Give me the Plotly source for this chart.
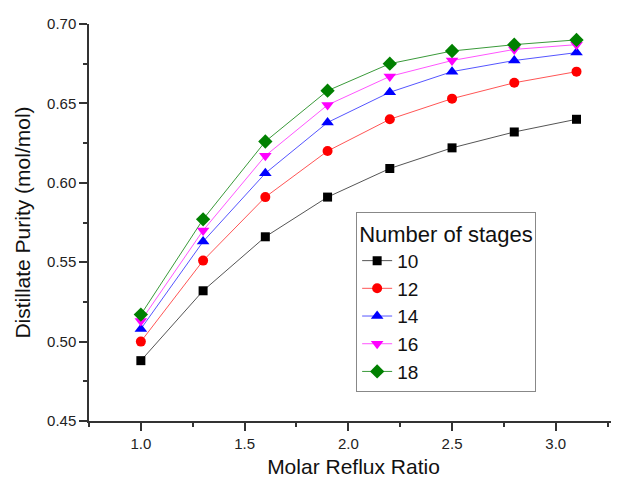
import plotly.graph_objects as go

reflux_ratio = [1.0, 1.3, 1.6, 1.9, 2.2, 2.5, 2.8, 3.1]
stages = ["10", "12", "14", "16", "18"]
purity_10 = [0.488, 0.532, 0.566, 0.591, 0.609, 0.622, 0.632, 0.640]
purity_12 = [0.500, 0.551, 0.591, 0.620, 0.640, 0.653, 0.663, 0.670]
purity_14 = [0.508, 0.563, 0.606, 0.638, 0.657, 0.670, 0.677, 0.682]
purity_16 = [0.513, 0.570, 0.617, 0.649, 0.667, 0.677, 0.684, 0.687]
purity_18 = [0.517, 0.577, 0.626, 0.658, 0.675, 0.683, 0.687, 0.690]

series = [purity_10, purity_12, purity_14, purity_16, purity_18]
marker_colors = ["#000000", "#ff0000", "#0000ff", "#ff00ff", "#008000"]
line_colors = ["#555555", "#ff5555", "#5555ff", "#ff55ff", "#3a9a3a"]
symbols = ["square", "circle", "triangle-up", "triangle-down", "diamond"]
sizes = [9, 10, 11, 11, 11]

fig = go.Figure()
for name, vals, mc, lc, sym, sz in zip(stages, series, marker_colors, line_colors, symbols, sizes):
    fig.add_trace(go.Scatter(
        x=reflux_ratio, y=vals, name=name, mode="lines+markers",
        line=dict(color=lc, width=1),
        marker=dict(symbol=sym, size=sz, color=mc, line=dict(width=0)),
    ))

font_family = "Liberation Sans, Arial, sans-serif"
# the page body adds an 8px offset, so the figure is sized to fit the 619x479 window
fig.update_layout(
    width=611, height=471,
    margin=dict(l=81, r=1, t=16, b=58),
    paper_bgcolor="white", plot_bgcolor="white",
    font=dict(family=font_family, color="#222222"),
    showlegend=True,
    legend=dict(
        title=dict(text="Number of stages", font=dict(size=22, family=font_family, color="#111111")),
        font=dict(size=19, family=font_family, color="#111111"),
        x=0.505, y=0.526, xanchor="left", yanchor="top",
        bordercolor="#888888", borderwidth=1, bgcolor="white",
        tracegroupgap=0,
    ),
    xaxis=dict(
        range=[0.75, 3.3], tick0=1.0, dtick=0.5, tickformat=".1f",
        ticks="outside", ticklen=8, tickwidth=1.5, tickcolor="#333333",
        minor=dict(ticks="outside", ticklen=4, dtick=0.25, tick0=0.75, tickwidth=1.5, tickcolor="#333333"),
        showline=True, linecolor="#333333", linewidth=1.5,
        showgrid=False, zeroline=False, mirror=False, automargin=False,
        tickfont=dict(size=15, family=font_family, color="#222222"),
        title=dict(text="Molar Reflux Ratio", font=dict(size=21, family=font_family, color="#111111"), standoff=9),
    ),
    yaxis=dict(
        range=[0.45, 0.70], tick0=0.45, dtick=0.05, tickformat=".2f",
        ticks="outside", ticklen=8, tickwidth=1.5, tickcolor="#333333",
        minor=dict(ticks="outside", ticklen=4, dtick=0.025, tick0=0.45, tickwidth=1.5, tickcolor="#333333"),
        showline=True, linecolor="#333333", linewidth=1.5,
        showgrid=False, zeroline=False, mirror=False, automargin=False,
        tickfont=dict(size=15, family=font_family, color="#222222"),
        title=dict(text="Distillate Purity (mol/mol)", font=dict(size=21, family=font_family, color="#111111"), standoff=11),
    ),
)

fig.write_html("out.html")
